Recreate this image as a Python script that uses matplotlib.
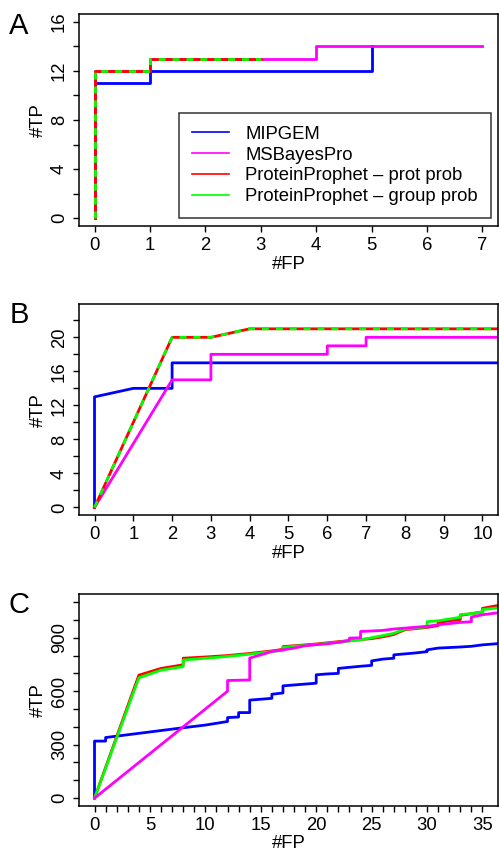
import matplotlib.pyplot as plt

plt.rcParams['font.family'] = ['Liberation Sans', 'DejaVu Sans']

BLUE = "#0000ff"
MAGENTA = "#ff00ff"
RED = "#ff0000"
GREEN = "#00ff00"
FS = 13.3

LABELS = ["MIPGEM", "MSBayesPro", "ProteinProphet \u2013 prot prob",
          "ProteinProphet \u2013 group prob"]

# Panel A
a_blue_x = [0, 0, 1, 1, 5, 5]
a_blue_y = [0, 11, 11, 12, 12, 14]
a_mag_x = [0, 0, 1, 1, 4, 4, 7]
a_mag_y = [0, 12, 12, 13, 13, 14, 14]
a_red_x = [0, 0, 1, 1, 3]
a_red_y = [0, 12, 12, 13, 13]
a_green_x = [0, 0, 1, 1, 3]
a_green_y = [0, 12, 12, 13, 13]

# Panel B
b_blue_x = [0, 0, 1, 2, 2, 11]
b_blue_y = [0, 13, 14, 14, 17, 17]
b_mag_x = [0, 2, 3, 3, 6, 6, 7, 7, 11]
b_mag_y = [0, 15, 15, 18, 18, 19, 19, 20, 20]
b_red_x = [0, 2, 3, 4, 11]
b_red_y = [0, 20, 20, 21, 21]
b_green_x = [0, 2, 3, 4, 11]
b_green_y = [0, 20, 20, 21, 21]

# Panel C
c_blue_x = [0, 0, 1, 1, 8, 10, 11, 12, 12, 13, 13, 14, 14, 15, 16, 16, 17, 17,
            19, 20, 20, 21, 22, 22, 24, 25, 25, 26, 27, 27, 29, 30, 30, 31, 32,
            33, 34, 35, 37]
c_blue_y = [0, 320, 320, 340, 395, 410, 420, 430, 452, 455, 480, 480, 550, 555,
            560, 583, 590, 630, 640, 645, 692, 697, 700, 728, 740, 745, 770, 780,
            785, 804, 815, 822, 832, 842, 845, 848, 852, 860, 870]
c_mag_x = [0, 12, 12, 14, 14, 15, 16, 17, 18, 19, 20, 21, 22, 23, 23, 24, 24,
           26, 27, 30, 31, 33, 34, 34, 35, 37]
c_mag_y = [0, 600, 660, 663, 786, 804, 823, 832, 842, 855, 861, 866, 874, 885,
           898, 900, 935, 941, 949, 964, 973, 986, 990, 1016, 1029, 1045]
c_red_x = [0, 4, 6, 8, 8, 10, 12, 14, 16, 17, 17, 18, 20, 22, 24, 25, 26, 27, 28,
           30, 31, 31, 32, 33, 33, 34, 35, 35, 37]
c_red_y = [0, 690, 728, 748, 785, 792, 800, 812, 826, 835, 850, 855, 865, 878,
           890, 895, 905, 918, 945, 958, 968, 985, 995, 1002, 1025, 1035, 1045,
           1065, 1088]
c_green_x = [0, 4, 6, 8, 8, 10, 12, 14, 16, 17, 17, 18, 20, 22, 24, 25, 26, 27,
             28, 30, 30, 31, 32, 33, 33, 34, 35, 35, 37]
c_green_y = [0, 675, 718, 738, 775, 785, 795, 808, 822, 830, 845, 852, 862, 875,
             888, 900, 912, 925, 948, 962, 990, 995, 1005, 1015, 1030, 1035, 1045,
             1058, 1072]


def style_axes(ax, xmax, xticks, xlabels, yticks, ylabels, ymax):
    # R style: 4% padding on both ends
    ext_x = 0.04 * xmax
    ext_y = 0.04 * ymax
    ax.set_xlim(-ext_x, xmax + ext_x)
    ax.set_ylim(-ext_y, ymax + ext_y)
    ax.set_xticks(xticks)
    ax.set_xticklabels(xlabels, fontsize=FS)
    ax.set_yticks(yticks)
    ax.set_yticklabels(ylabels, fontsize=FS, rotation=90, va='center')
    ax.tick_params(direction='out', length=4, width=1, pad=4)
    for sp in ax.spines.values():
        sp.set_linewidth(1.1)
    ax.set_xlabel('#FP', fontsize=FS, labelpad=1)
    ax.set_ylabel('#TP', fontsize=FS, labelpad=3)


fig = plt.figure(figsize=(4.99, 8.51), dpi=100)

# ---- A ----
ax = fig.add_axes([0.1583, 0.7344, 0.8397, 0.2491])
ax.plot(a_blue_x, a_blue_y, color=BLUE, lw=2, label=LABELS[0])
ax.plot(a_mag_x, a_mag_y, color=MAGENTA, lw=2, label=LABELS[1])
ax.plot(a_red_x, a_red_y, color=RED, lw=2, label=LABELS[2])
ax.plot(a_green_x, a_green_y, color=GREEN, lw=2, ls=(0, (2.5, 2.5)), label=LABELS[3])
style_axes(ax, 7, range(0, 8), [str(i) for i in range(0, 8)],
           range(0, 17, 2), [str(v) if v % 4 == 0 else '' for v in range(0, 17, 2)], 16)
handles = [plt.Line2D([], [], color=c, lw=1.2) for c in [BLUE, MAGENTA, RED, GREEN]]
leg = ax.legend(handles, LABELS, loc='lower right', bbox_to_anchor=(0.983, 0.038),
                fontsize=FS, frameon=True, fancybox=False, borderpad=0.7,
                labelspacing=0.2, handlelength=2.0, handletextpad=0.9,
                borderaxespad=0)
leg.get_frame().set_edgecolor('black')
leg.get_frame().set_linewidth(1.1)
fig.text(0.038, 0.969, 'A', fontsize=21, ha='center', va='center')

# ---- B ----
ax = fig.add_axes([0.1583, 0.3945, 0.8397, 0.2483])
ax.plot(b_blue_x, b_blue_y, color=BLUE, lw=2)
ax.plot(b_mag_x, b_mag_y, color=MAGENTA, lw=2)
ax.plot(b_red_x, b_red_y, color=RED, lw=2)
ax.plot(b_green_x, b_green_y, color=GREEN, lw=2, ls=(0, (2.5, 2.5)))
style_axes(ax, 10, range(0, 11), [str(i) for i in range(0, 11)],
           range(0, 23, 2), [str(v) if v % 4 == 0 else '' for v in range(0, 23, 2)], 23)
fig.text(0.038, 0.630, 'B', fontsize=21, ha='center', va='center')

# ---- C ----
ax = fig.add_axes([0.1583, 0.0529, 0.8397, 0.2488])
ax.plot(c_blue_x, c_blue_y, color=BLUE, lw=2)
ax.plot(c_red_x, c_red_y, color=RED, lw=2)
ax.plot(c_green_x, c_green_y, color=GREEN, lw=2)
ax.plot(c_mag_x, c_mag_y, color=MAGENTA, lw=2)
style_axes(ax, 35, range(0, 36), [str(i) if i % 5 == 0 else '' for i in range(0, 36)],
           range(0, 1101, 100), [str(v) if v % 300 == 0 else '' for v in range(0, 1101, 100)], 1100)
fig.text(0.038, 0.289, 'C', fontsize=21, ha='center', va='center')

fig.savefig('out.png', dpi=100)
